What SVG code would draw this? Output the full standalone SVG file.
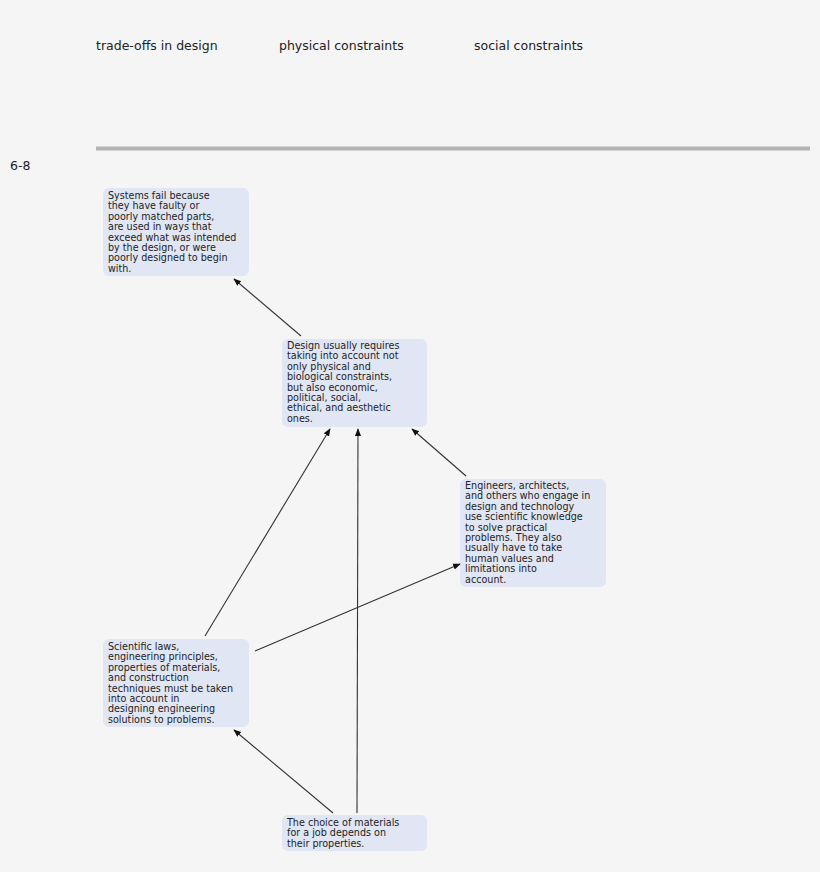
<svg xmlns="http://www.w3.org/2000/svg" width="820" height="872" viewBox="0 0 820 872">
<style>
.h{font-family:"DejaVu Sans",sans-serif;font-size:12.5px;fill:#222}
.n rect{fill:#e1e6f4;stroke:none}
.n text{font-family:"DejaVu Sans",sans-serif;font-size:9.6px;fill:#222}
.c line{stroke:#333;stroke-width:1.1;marker-end:url(#a)}
</style>
<defs><marker id="a" viewBox="0 0 10 10" refX="9" refY="5" markerWidth="7" markerHeight="7" orient="auto"><path d="M0,1L10,5L0,9z" fill="#111"/></marker></defs>
<rect width="820" height="872" fill="#f5f5f5"/>
<text class="h" x="96" y="50">trade-offs in design</text>
<text class="h" x="279" y="50">physical constraints</text>
<text class="h" x="474" y="50">social constraints</text>
<rect x="96" y="146.5" width="714" height="4" fill="#b4b4b4"/>
<text class="h" x="10" y="170">6-8</text>
<g id="n1" class="n"><rect x="103" y="188" width="146" height="88" rx="6"/>
<text x="108" y="199"><tspan x="108">Systems fail because</tspan><tspan x="108" dy="10.4">they have faulty or</tspan><tspan x="108" dy="10.4">poorly matched parts,</tspan><tspan x="108" dy="10.4">are used in ways that</tspan><tspan x="108" dy="10.4">exceed what was intended</tspan><tspan x="108" dy="10.4">by the design, or were</tspan><tspan x="108" dy="10.4">poorly designed to begin</tspan><tspan x="108" dy="10.4">with.</tspan></text></g>
<g id="n2" class="n"><rect x="282" y="339" width="145" height="88" rx="6"/>
<text x="287" y="349"><tspan x="287">Design usually requires</tspan><tspan x="287" dy="10.4">taking into account not</tspan><tspan x="287" dy="10.4">only physical and</tspan><tspan x="287" dy="10.4">biological constraints,</tspan><tspan x="287" dy="10.4">but also economic,</tspan><tspan x="287" dy="10.4">political, social,</tspan><tspan x="287" dy="10.4">ethical, and aesthetic</tspan><tspan x="287" dy="10.4">ones.</tspan></text></g>
<g id="n3" class="n"><rect x="460" y="479" width="146" height="108" rx="6"/>
<text x="465" y="489"><tspan x="465">Engineers, architects,</tspan><tspan x="465" dy="10.4">and others who engage in</tspan><tspan x="465" dy="10.4">design and technology</tspan><tspan x="465" dy="10.4">use scientific knowledge</tspan><tspan x="465" dy="10.4">to solve practical</tspan><tspan x="465" dy="10.4">problems. They also</tspan><tspan x="465" dy="10.4">usually have to take</tspan><tspan x="465" dy="10.4">human values and</tspan><tspan x="465" dy="10.4">limitations into</tspan><tspan x="465" dy="10.4">account.</tspan></text></g>
<g id="n4" class="n"><rect x="103" y="639" width="146" height="88" rx="6"/>
<text x="108" y="650"><tspan x="108">Scientific laws,</tspan><tspan x="108" dy="10.4">engineering principles,</tspan><tspan x="108" dy="10.4">properties of materials,</tspan><tspan x="108" dy="10.4">and construction</tspan><tspan x="108" dy="10.4">techniques must be taken</tspan><tspan x="108" dy="10.4">into account in</tspan><tspan x="108" dy="10.4">designing engineering</tspan><tspan x="108" dy="10.4">solutions to problems.</tspan></text></g>
<g id="n5" class="n"><rect x="282" y="815" width="145" height="36" rx="6"/>
<text x="287" y="826"><tspan x="287">The choice of materials</tspan><tspan x="287" dy="10.4">for a job depends on</tspan><tspan x="287" dy="10.4">their properties.</tspan></text></g>
<g id="connectors" class="c">
<line x1="301" y1="336" x2="234" y2="279"/>
<line x1="205" y1="636" x2="330" y2="429"/>
<line x1="357" y1="813" x2="358" y2="429"/>
<line x1="466" y1="476" x2="412" y2="429"/>
<line x1="255" y1="651" x2="460" y2="564"/>
<line x1="333" y1="813" x2="234" y2="730"/>
</g>
</svg>
